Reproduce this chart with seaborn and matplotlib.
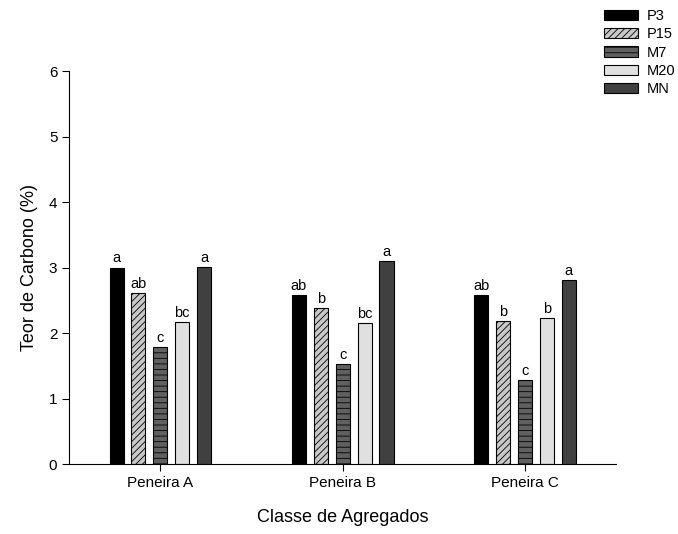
import pandas as pd
import seaborn as sns
import matplotlib.pyplot as plt
from matplotlib.patches import Patch

groups = ["Peneira A", "Peneira B", "Peneira C"]
treatments = ["P3", "P15", "M7", "M20", "MN"]
p3 = [3.00, 2.58, 2.58]
p15 = [2.61, 2.38, 2.18]
m7 = [1.79, 1.53, 1.28]
m20 = [2.17, 2.15, 2.23]
mn = [3.01, 3.10, 2.81]
letters_p3 = ["a", "ab", "ab"]
letters_p15 = ["ab", "b", "b"]
letters_m7 = ["c", "c", "c"]
letters_m20 = ["bc", "bc", "b"]
letters_mn = ["a", "a", "a"]

values = [p3, p15, m7, m20, mn]
letters = [letters_p3, letters_p15, letters_m7, letters_m20, letters_mn]
rows = []
for t, vals in zip(treatments, values):
    for g, v in zip(groups, vals):
        rows.append({"Classe": g, "Tratamento": t, "Teor": v})
df = pd.DataFrame(rows)

colors = {"P3": "#000000", "P15": "#c8c8c8", "M7": "#606060",
          "M20": "#e0e0e0", "MN": "#404040"}
hatches = {"P3": "", "P15": "/////", "M7": "---", "M20": "", "MN": ""}

sns.set_style("ticks", {"text.color": "black", "axes.labelcolor": "black",
                        "xtick.color": "black", "ytick.color": "black",
                        "axes.edgecolor": "black"})
plt.rcParams['font.family'] = ['Liberation Sans', 'DejaVu Sans']
plt.rcParams['hatch.linewidth'] = 0.6
plt.rcParams['hatch.color'] = 'black'

fig = plt.figure(figsize=(6.78, 5.34), dpi=100)
ax = fig.add_axes([0.102, 0.131, 0.807, 0.736])
sns.barplot(data=df, x="Classe", y="Teor", hue="Tratamento",
            hue_order=treatments, order=groups, palette=colors,
            width=0.6, gap=0.36, edgecolor="black", linewidth=0.8,
            errorbar=None, legend=False, ax=ax)

for cont, t, lab in zip(ax.containers, treatments, letters):
    for bar in cont.patches:
        bar.set_hatch(hatches[t])
    ax.bar_label(cont, labels=lab, padding=1.5, fontsize=10.5, color="black")

ax.set_ylim(0, 6)
ax.set_xlim(-0.5, 2.5)
ax.set_yticks(range(7))
ax.tick_params(labelsize=11, length=5, width=0.8)
ax.set_xlabel("Classe de Agregados", fontsize=13, labelpad=14)
ax.set_ylabel("Teor de Carbono (%)", fontsize=13, labelpad=8)
sns.despine(ax=ax)

handles = [Patch(facecolor=colors[t], edgecolor="black", hatch=hatches[t],
                 linewidth=0.8, label=t) for t in treatments]
fig.legend(handles=handles, loc="upper left", bbox_to_anchor=(0.872, 1.008),
           frameon=False, fontsize=10.5, handlelength=2.3, handleheight=0.7,
           labelspacing=0.3, handletextpad=0.6)

fig.savefig("out.png", dpi=100)
